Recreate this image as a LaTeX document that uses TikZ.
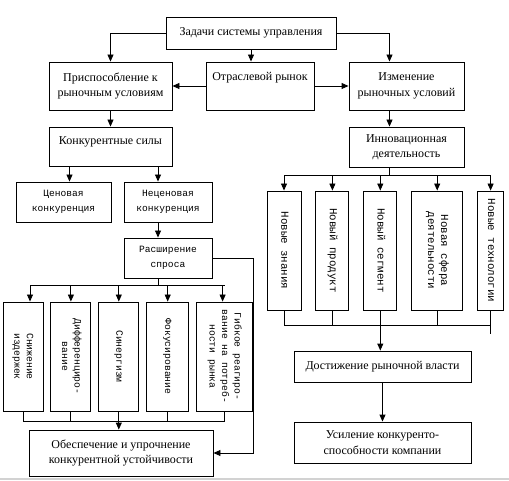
\documentclass[tikz,border=0pt]{standalone}
\usepackage{fontspec}
\setmainfont{Liberation Serif}
\setmonofont{Liberation Mono}
\usepackage{tikz}
\usetikzlibrary{positioning,chains,calc,arrows.meta}
\tikzset{
	control scheme/.style={
		x=1pt,y=-1pt,
		line width=0.9pt,
		link/.style={-{Triangle[length=7pt,width=6pt]}},
		font=\fontsize{12}{15.5}\selectfont
	},
	block/.style={
		rectangle,
		draw,
		align=center,
		inner sep=2pt
	},
	top text/.style={% text sits in the upper part of the box
		text depth=#1
	},
	mono block/.style={
		block,
		font=\ttfamily\fontsize{9.6}{15}\selectfont
	},
	upright/.style={% tall box, text turned by the macro below
		block,
		on chain,
		font=\ttfamily\fontsize{9.7}{12.5}\selectfont
	}
}
\newcommand{\turned}[1]{\rotatebox{-90}{\begin{tabular}{@{}c@{}}#1\end{tabular}}}

\begin{document}
\begin{tikzpicture}[control scheme]
	\useasboundingbox (0,0) rectangle (509,481);
	% top part
	\node[block,minimum width=170pt,minimum height=32pt] (tasks) at (251,33) {Задачи системы управления};
	\node[block,minimum width=123pt,minimum height=48pt] (adapt) at (110.5,86) {Приспособление к\\рыночным условиям};
	\node[block,minimum width=108pt,minimum height=48pt,top text=20pt] (market) at (260,86) {Отраслевой рынок};
	\node[block,minimum width=115pt,minimum height=48pt] (change) at (406.5,86) {Изменение\\рыночных условий};
	\node[block,minimum width=123pt,minimum height=39pt,top text=12pt] (forces) at (110.5,146.5) {Конкурентные силы};
	\node[block,minimum width=115pt,minimum height=40pt] (innov) at (406.5,147) {Инновационная\\деятельность};
	% left branch
	\node[mono block,minimum width=95pt,minimum height=40pt] (price) at (63.5,202) {Ценовая\\конкуренция};
	\node[mono block,minimum width=88pt,minimum height=40pt] (nonprice) at (168,202) {Неценовая\\конкуренция};
	\node[mono block,minimum width=88pt,minimum height=40pt] (demand) at (168,258) {Расширение\\спроса};
	\begin{scope}[start chain=lower going right,node distance=7pt,every node/.style={minimum height=109pt}]
		\node[upright,minimum width=40pt] (cut) at (23,356.5) {\turned{Снижение\\издержек}};
		\node[upright,minimum width=40pt] (diff) {\turned{Дифференциро-\\вание}};
		\node[upright,minimum width=40pt] (synergy) {\turned{Синергизм}};
		\node[upright,minimum width=42pt] (focus) {\turned{Фокусирование}};
		\node[upright,minimum width=56pt] (flex) {\turned{Гибкое реагиро-\\вание на потреб-\\ности рынка}};
	\end{scope}
	\node[block,minimum width=184pt,minimum height=46pt] (ensure) at (121,453) {Обеспечение и упрочнение\\конкурентной устойчивости};
	% right branch
	\begin{scope}[start chain=upper going right,node distance=14pt,every node/.style={minimum height=119pt}]
		\node[upright,minimum width=34pt,font=\ttfamily\fontsize{10.8}{13}\selectfont] (knowledge) at (284,250.5) {\turned{Новые знания}};
		\node[upright,minimum width=33pt,font=\ttfamily\fontsize{10.8}{13}\selectfont] (product) {\turned{Новый продукт}};
		\node[upright,minimum width=33pt,font=\ttfamily\fontsize{10.8}{13}\selectfont] (segment) {\turned{Новый сегмент}};
		\node[upright,minimum width=51pt,font=\ttfamily\fontsize{10.8}{13}\selectfont] (sphere) {\turned{Новая сфера\\деятельности}};
		\node[upright,minimum width=26pt,font=\ttfamily\fontsize{10.8}{13}\selectfont] (technology) {\turned{Новые технологии}};
	\end{scope}
	\node[block,minimum width=177pt,minimum height=31pt] (achieve) at (382.5,366.5) {Достижение рыночной власти};
	\node[block,minimum width=177pt,minimum height=41pt] (strengthen) at (382.5,442.5) {Усиление конкуренто-\\способности компании};

	% connectors, top part
	\draw[link] (tasks.west) -| (adapt);
	\draw[link] (tasks.south) -- (tasks.south |- market.north);
	\draw[link] (tasks.east) -| ([xshift=-17pt]change.north);
	\draw[link] (market.west) -- (adapt.east);
	\draw[link] (market.east) -- (change.west);
	\draw[link] (adapt) -- (forces);
	\draw[link] ([xshift=-17pt]change.south) -- ([xshift=-17pt]innov.north);
	% connectors, left branch
	\draw[link] ([xshift=6pt]price.north |- forces.south) -- ([xshift=6pt]price.north);
	\draw[link] ([xshift=-10pt]nonprice.north |- forces.south) -- ([xshift=-10pt]nonprice.north);
	\draw[link] ([xshift=-10pt]nonprice.south) -- ([xshift=-10pt]demand.north);
	\coordinate (spread) at ([xshift=-10pt,yshift=-7pt]demand.south);
	\draw ([xshift=-10pt]demand.south) -- (spread);
	\draw ([xshift=7pt]cut.north |- spread) -- (flex.north |- spread);
	\foreach \b/\s in {cut/7,diff/0,synergy/0,focus/0,flex/-2}
		\draw[link] ([xshift=\s pt]\b.north |- spread) -- ([xshift=\s pt]\b.north);
	\coordinate (gather) at ([yshift=-10pt]synergy.south);
	\draw (cut.south |- gather) -- (flex.south |- gather);
	\foreach \b in {cut,diff,focus,flex}
		\draw (\b.south) -- (\b.south |- gather);
	\draw[link] (synergy.south) -- (synergy.south |- ensure.north);
	\coordinate (side) at (253,258);
	\draw[link] (demand.east) -- (side) |- (ensure.east);
	% connectors, right branch
	\coordinate (fan) at ([xshift=-17pt,yshift=-8pt]innov.south);
	\draw ([xshift=-17pt]innov.south) -- (fan);
	\draw (knowledge.north |- fan) -- (technology.north |- fan);
	\foreach \b in {knowledge,product,segment,sphere,technology}
		\draw[link] (\b.north |- fan) -- (\b.north);
	\coordinate (merge) at ([yshift=-15pt]segment.south);
	\draw (knowledge.south |- merge) -- (technology.south |- merge);
	\foreach \b in {knowledge,product,sphere}
		\draw (\b.south) -- (\b.south |- merge);
	\draw (technology.south) -- ([yshift=-9pt]technology.south |- merge);
	\draw[link] (segment.south) -- (segment.south |- achieve.north);
	\draw[link] (achieve) -- (strengthen);
	% page edge under the scheme
	\draw[gray!35,line width=1.5pt] (0,479) -- (509,479);
\end{tikzpicture}
\end{document}
